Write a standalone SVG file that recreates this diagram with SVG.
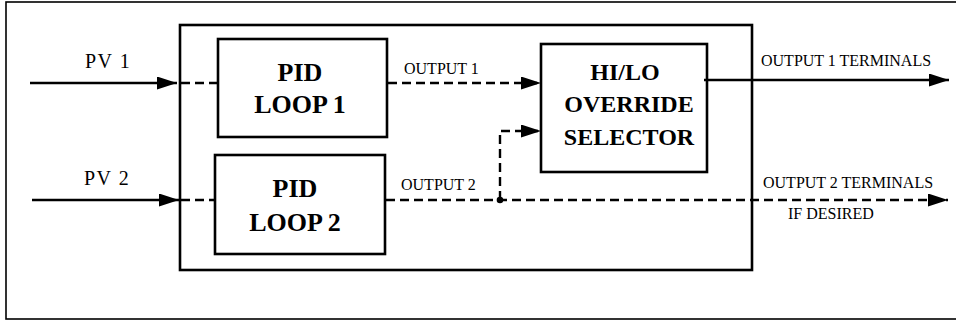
<svg xmlns="http://www.w3.org/2000/svg" width="956" height="321" viewBox="0 0 956 321">
<style>
.frame{fill:none;stroke:#000;stroke-width:1.6}
.box{fill:#fff;stroke:#000;stroke-width:2.6}
.solid{fill:none;stroke:#000;stroke-width:2.4}
.dash{fill:none;stroke:#000;stroke-width:2.4;stroke-dasharray:9 5}
text{font-family:"Liberation Serif","DejaVu Serif",serif;fill:#000}
.lbl{font-size:16px}
.pv{font-size:20px;letter-spacing:1.5px}
.big{font-weight:bold;font-size:26px;text-anchor:middle}
.sel{font-weight:bold;font-size:24px;text-anchor:middle}
</style>
<defs>
<marker id="ah" markerWidth="20" markerHeight="13" refX="20" refY="6.5" orient="auto" markerUnits="userSpaceOnUse">
<path d="M0,0 L20,6.5 L0,13 Z" fill="#000"/>
</marker>
</defs>
<rect class="frame" x="6" y="2" width="980" height="317"/>
<g id="controller">
<rect class="box" x="180" y="25" width="572" height="245"/>
</g>
<g id="pid1">
<rect class="box" x="218" y="39" width="169" height="98"/>
<text class="big" x="300" y="81">PID</text>
<text class="big" x="300" y="113">LOOP 1</text>
</g>
<g id="pid2">
<rect class="box" x="215" y="155" width="170" height="99"/>
<text class="big" x="295" y="197">PID</text>
<text class="big" x="295" y="231">LOOP 2</text>
</g>
<g id="selector">
<rect class="box" x="541" y="44" width="166" height="128"/>
<text class="sel" x="625" y="80">HI/LO</text>
<text class="sel" x="629" y="112">OVERRIDE</text>
<text class="sel" x="629" y="145">SELECTOR</text>
</g>
<g id="connectors">
<line class="solid" x1="30" y1="83" x2="177" y2="83" marker-end="url(#ah)"/>
<line class="dash" x1="181" y1="83" x2="218" y2="83"/>
<line class="solid" x1="32" y1="200" x2="179" y2="200" marker-end="url(#ah)"/>
<line class="dash" x1="181" y1="200" x2="215" y2="200"/>
<line class="dash" x1="388" y1="83" x2="541" y2="83" marker-end="url(#ah)"/>
<line class="dash" x1="386" y1="200" x2="948" y2="200" marker-end="url(#ah)"/>
<polyline class="dash" points="500,200 500,131 541,131" marker-end="url(#ah)"/>
<circle cx="500" cy="200" r="3.3" fill="#000"/>
<line class="solid" x1="704" y1="80" x2="949" y2="80" marker-end="url(#ah)"/>
</g>
<g id="labels">
<text class="pv" x="85" y="68">PV 1</text>
<text class="pv" x="84" y="185">PV 2</text>
<text class="lbl" x="404" y="74">OUTPUT 1</text>
<text class="lbl" x="401" y="190">OUTPUT 2</text>
<text class="lbl" x="761" y="66">OUTPUT 1 TERMINALS</text>
<text class="lbl" x="763" y="188">OUTPUT 2 TERMINALS</text>
<text class="lbl" x="788" y="219">IF DESIRED</text>
</g>
</svg>
